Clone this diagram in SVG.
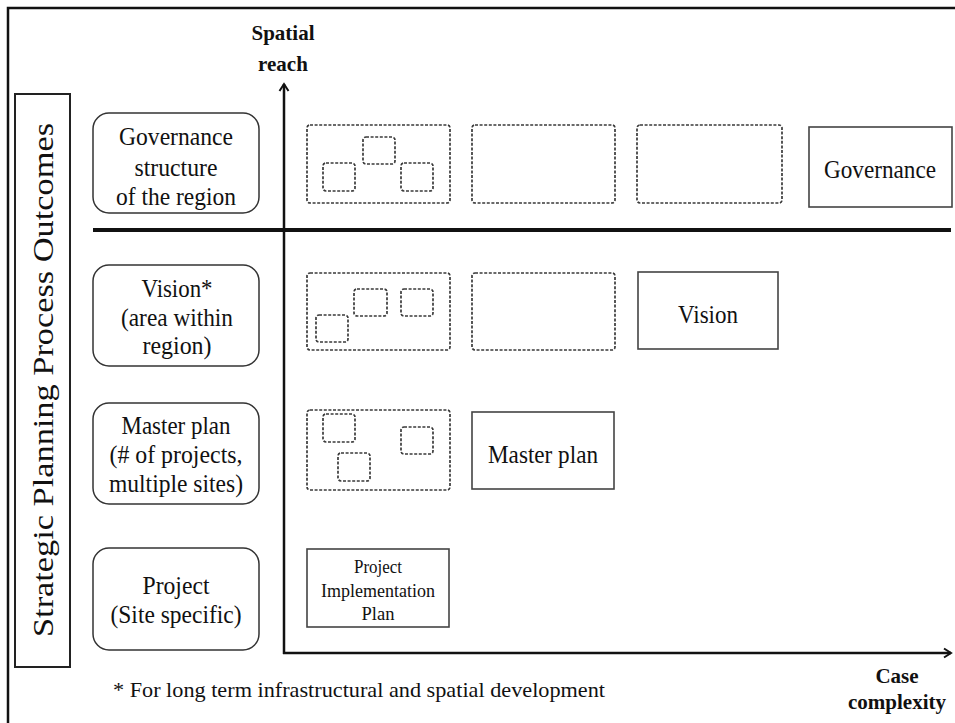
<svg xmlns="http://www.w3.org/2000/svg" width="955" height="723" viewBox="0 0 955 723">
  <style>
    text { font-family: "Liberation Serif", "Times New Roman", serif; fill: #111; }
    .lbl { font-size: 25px; text-anchor: middle; }
    .axis-lbl { font-size: 21px; font-weight: bold; text-anchor: middle; }
    .note { font-size: 22px; }
    .cat { fill: #fff; stroke: #333; stroke-width: 1.5; }
    .solid { fill: #fff; stroke: #444; stroke-width: 1.6; }
    .dash { fill: none; stroke: #3a3a3a; stroke-width: 1.7; stroke-dasharray: 3 1.6; }
    .axis { fill: none; stroke: #111; stroke-width: 2.5; }
  </style>
  <defs>
    <marker id="chev" viewBox="0 0 12 12" refX="10" refY="6" markerWidth="12" markerHeight="12" markerUnits="userSpaceOnUse" orient="auto">
      <path d="M3,1.5 L10,6 L3,10.5" fill="none" stroke="#111" stroke-width="2"/>
    </marker>
  </defs>

  <rect width="955" height="723" fill="#fff"/>

  <!-- outer frame (top and left edges) -->
  <path d="M8,723 L8,8 L955,8" fill="none" stroke="#111" stroke-width="2.5"/>

  <!-- vertical title -->
  <g id="title">
    <rect x="15" y="94" width="55" height="573" fill="#fff" stroke="#222" stroke-width="2"/>
    <text transform="translate(53,380) rotate(-90)" font-size="30" text-anchor="middle" textLength="514" lengthAdjust="spacingAndGlyphs">Strategic Planning Process Outcomes</text>
  </g>

  <!-- category labels -->
  <g id="cat-governance">
    <rect class="cat" x="93" y="113" width="166" height="100" rx="16"/>
    <text class="lbl" x="176" y="145" textLength="114" lengthAdjust="spacingAndGlyphs">Governance</text>
    <text class="lbl" x="176" y="176" textLength="83" lengthAdjust="spacingAndGlyphs">structure</text>
    <text class="lbl" x="176" y="205" textLength="120" lengthAdjust="spacingAndGlyphs">of the region</text>
  </g>
  <g id="cat-vision">
    <rect class="cat" x="93" y="265" width="166" height="101" rx="16"/>
    <text class="lbl" x="177" y="297" textLength="71" lengthAdjust="spacingAndGlyphs">Vision*</text>
    <text class="lbl" x="177" y="326" textLength="112" lengthAdjust="spacingAndGlyphs">(area within</text>
    <text class="lbl" x="177" y="354" textLength="69" lengthAdjust="spacingAndGlyphs">region)</text>
  </g>
  <g id="cat-masterplan">
    <rect class="cat" x="93" y="403" width="166" height="101" rx="16"/>
    <text class="lbl" x="176" y="434" textLength="109" lengthAdjust="spacingAndGlyphs">Master plan</text>
    <text class="lbl" x="176" y="463" textLength="133" lengthAdjust="spacingAndGlyphs">(# of projects,</text>
    <text class="lbl" x="176" y="492" textLength="134" lengthAdjust="spacingAndGlyphs">multiple sites)</text>
  </g>
  <g id="cat-project">
    <rect class="cat" x="93" y="548" width="166" height="102" rx="16"/>
    <text class="lbl" x="176" y="594" textLength="67" lengthAdjust="spacingAndGlyphs">Project</text>
    <text class="lbl" x="176" y="623" textLength="131" lengthAdjust="spacingAndGlyphs">(Site specific)</text>
  </g>

  <!-- axes and divider -->
  <g id="connectors">
    <line x1="93" y1="230" x2="951" y2="230" stroke="#111" stroke-width="4"/>
    <line class="axis" x1="284" y1="654" x2="284" y2="84" marker-end="url(#chev)"/>
    <line class="axis" x1="283" y1="653" x2="951" y2="653" marker-end="url(#chev)"/>
  </g>

  <g id="axis-labels">
    <text class="axis-lbl" x="283" y="40">Spatial</text>
    <text class="axis-lbl" x="283" y="71">reach</text>
    <text class="axis-lbl" x="897" y="683">Case</text>
    <text class="axis-lbl" x="897" y="709">complexity</text>
  </g>

  <!-- governance row -->
  <g id="gov-1">
    <rect class="dash" x="307" y="125" width="143" height="78" rx="3"/>
    <rect class="dash" x="323" y="163" width="32" height="28" rx="3"/>
    <rect class="dash" x="363" y="137" width="32" height="27" rx="3"/>
    <rect class="dash" x="401" y="163" width="32" height="28" rx="3"/>
  </g>
  <g id="gov-2"><rect class="dash" x="472" y="125" width="143" height="78" rx="3"/></g>
  <g id="gov-3"><rect class="dash" x="637" y="125" width="145" height="78" rx="3"/></g>
  <g id="gov-4">
    <rect class="solid" x="809" y="127" width="143" height="80"/>
    <text class="lbl" x="880" y="178" textLength="112" lengthAdjust="spacingAndGlyphs">Governance</text>
  </g>

  <!-- vision row -->
  <g id="vis-1">
    <rect class="dash" x="307" y="273" width="143" height="77" rx="3"/>
    <rect class="dash" x="316" y="315" width="32" height="27" rx="3"/>
    <rect class="dash" x="354" y="289" width="33" height="27" rx="3"/>
    <rect class="dash" x="401" y="289" width="32" height="27" rx="3"/>
  </g>
  <g id="vis-2"><rect class="dash" x="472" y="273" width="143" height="77" rx="3"/></g>
  <g id="vis-3">
    <rect class="solid" x="638" y="272" width="140" height="77"/>
    <text class="lbl" x="708" y="323" textLength="60" lengthAdjust="spacingAndGlyphs">Vision</text>
  </g>

  <!-- master plan row -->
  <g id="mp-1">
    <rect class="dash" x="307" y="410" width="143" height="80" rx="3"/>
    <rect class="dash" x="323" y="414" width="32" height="28" rx="3"/>
    <rect class="dash" x="401" y="427" width="32" height="27" rx="3"/>
    <rect class="dash" x="338" y="453" width="32" height="28" rx="3"/>
  </g>
  <g id="mp-2">
    <rect class="solid" x="472" y="412" width="142" height="77"/>
    <text class="lbl" x="543" y="463" textLength="110" lengthAdjust="spacingAndGlyphs">Master plan</text>
  </g>

  <!-- project row -->
  <g id="pr-1">
    <rect class="solid" x="307" y="549" width="142" height="78"/>
    <text x="378" y="573" font-size="19" text-anchor="middle" textLength="48" lengthAdjust="spacingAndGlyphs">Project</text>
    <text x="378" y="597" font-size="19" text-anchor="middle" textLength="114" lengthAdjust="spacingAndGlyphs">Implementation</text>
    <text x="378" y="620" font-size="19" text-anchor="middle" textLength="33" lengthAdjust="spacingAndGlyphs">Plan</text>
  </g>

  <!-- footnote -->
  <text class="note" x="113" y="697" textLength="492" lengthAdjust="spacingAndGlyphs">* For long term infrastructural and spatial development</text>
</svg>
